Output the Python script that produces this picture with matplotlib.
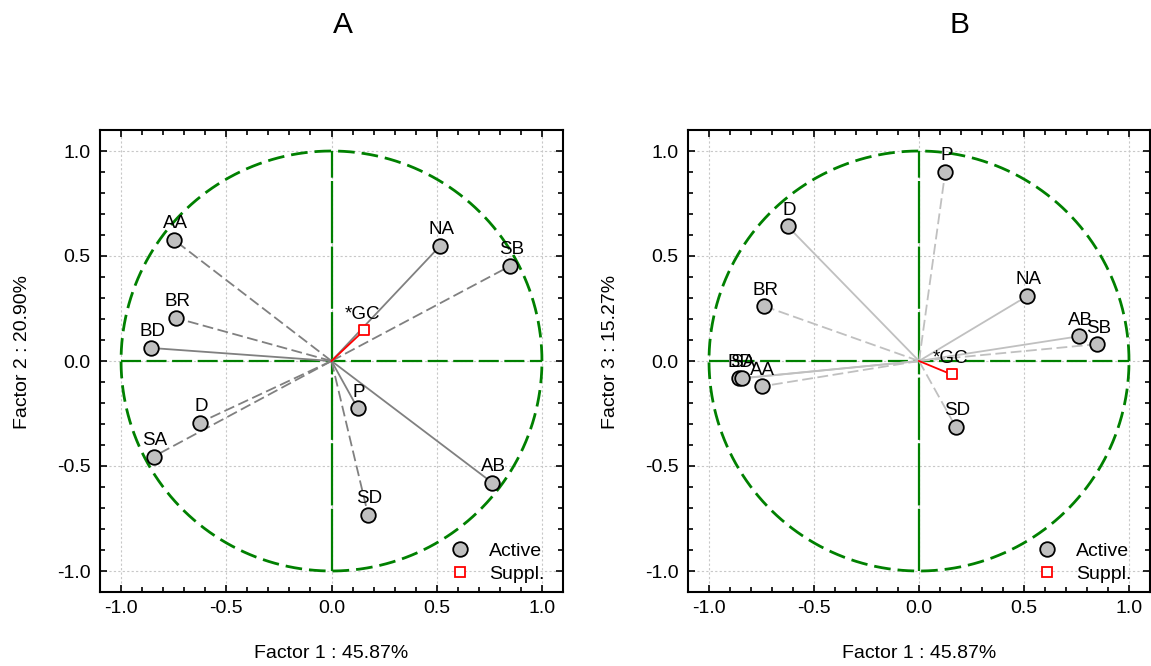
import numpy as np
import matplotlib
matplotlib.use("Agg")
import matplotlib.pyplot as plt
from matplotlib.lines import Line2D

plt.rcParams['font.family'] = ['Liberation Sans', 'DejaVu Sans']

# active variables
labels = ["AA", "NA", "SB", "BR", "BD", "P", "D", "SA", "AB", "SD"]
factor1 = [-0.750, 0.515, 0.848, -0.737, -0.856, 0.125, -0.625, -0.845, 0.763, 0.174]
factor2 = [0.578, 0.547, 0.452, 0.204, 0.062, -0.226, -0.293, -0.455, -0.579, -0.733]
factor3 = [-0.121, 0.309, 0.080, 0.261, -0.083, 0.900, 0.641, -0.083, 0.118, -0.312]

# supplementary variable
supp_label = "*GC"
supp_f1 = 0.155
supp_f2 = 0.146
supp_f3 = -0.064

axis_titles = ["A", "B"]
xlabel = "Factor 1 : 45.87%"
ylabels = ["Factor 2 : 20.90%", "Factor 3 : 15.27%"]

# which vector lines are drawn dashed in each panel
dashed_a = ["AA", "SB", "BR", "D", "SA", "SD"]
dashed_b = ["AA", "SB", "BR", "P", "SD"]

GREEN = "#008000"

fig = plt.figure(figsize=(11.51, 6.66), dpi=100)
ax_a = fig.add_axes([100/1151, 74/666, 463/1151, 462/666])
ax_b = fig.add_axes([688/1151, 74/666, 462/1151, 462/666])


def draw_panel(ax, ys, supp_y, dashed, line_col, ylabel):
    ax.set_xlim(-1.1, 1.1)
    ax.set_ylim(-1.1, 1.1)
    ax.set_axisbelow(True)
    ax.grid(True, color="#c8c8c8", linestyle=(0, (2, 2)), linewidth=0.8)

    # unit circle and axes through origin
    t = np.linspace(0, 2 * np.pi, 400)
    ax.plot(np.cos(t), np.sin(t), color=GREEN, lw=2.0,
            linestyle=(0, (6, 2.5)), zorder=2)
    ax.plot([-1, 1], [0, 0], color=GREEN, lw=1.6,
            linestyle=(0, (9, 2.5)), zorder=2)
    ax.plot([0, 0], [-1, 1], color=GREEN, lw=1.6,
            linestyle=(0, (28, 1.5)), zorder=2)

    for lab, x, y in zip(labels, factor1, ys):
        ls = (0, (6, 2.5)) if lab in dashed else "-"
        ax.plot([0, x], [0, y], color=line_col, lw=1.3, linestyle=ls, zorder=3)
    ax.plot([0, supp_f1], [0, supp_y], color="red", lw=1.3, zorder=3)

    ax.scatter(factor1, ys, s=110, facecolor="#c0c0c0", edgecolor="black",
               linewidth=1.3, zorder=4)
    ax.scatter([supp_f1], [supp_y], s=55, marker="s", facecolor="white",
               edgecolor="red", linewidth=1.3, zorder=4)

    for lab, x, y in zip(labels, factor1, ys):
        ax.annotate(lab, (x, y), xytext=(1, 8.4), textcoords="offset points",
                    ha="center", va="baseline", fontsize=13.5, zorder=5)
    ax.annotate(supp_label, (supp_f1, supp_y), xytext=(-1, 8.4),
                textcoords="offset points", ha="center", va="baseline",
                fontsize=13.5, zorder=5)

    ticks = [-1.0, -0.5, 0.0, 0.5, 1.0]
    ax.set_xticks(ticks)
    ax.set_yticks(ticks)
    ax.set_xticklabels(["%.1f" % v for v in ticks])
    ax.set_yticklabels(["%.1f" % v for v in ticks])
    ax.set_xticks(np.arange(-1.0, 1.05, 0.1), minor=True)
    ax.set_yticks(np.arange(-1.0, 1.05, 0.1), minor=True)
    ax.tick_params(which="both", direction="in", top=True, right=True,
                   labelsize=14, width=1.2)
    ax.tick_params(which="major", length=5)
    ax.tick_params(which="minor", length=3.5)
    ax.tick_params(axis="x", pad=6)
    ax.tick_params(axis="y", pad=7)
    for sp in ax.spines.values():
        sp.set_linewidth(1.5)

    ax.set_xlabel(xlabel, fontsize=14)
    ax.set_ylabel(ylabel, fontsize=14)
    ax.xaxis.set_label_coords(0.5, -0.115)
    ax.yaxis.set_label_coords(-0.15, 0.52)

    handles = [
        Line2D([], [], linestyle="none", marker="o", markersize=10.5,
               markerfacecolor="#c0c0c0", markeredgecolor="black",
               markeredgewidth=1.3),
        Line2D([], [], linestyle="none", marker="s", markersize=7,
               markerfacecolor="white", markeredgecolor="red",
               markeredgewidth=1.3),
    ]
    ax.legend(handles, ["Active", "Suppl."], loc="lower right",
              bbox_to_anchor=(0.99, -0.01), frameon=False, fontsize=14,
              handletextpad=0.5, labelspacing=0.3, borderaxespad=0.3)


draw_panel(ax_a, factor2, supp_f2, dashed_a, "#808080", ylabels[0])
draw_panel(ax_b, factor3, supp_f3, dashed_b, "#c0c0c0", ylabels[1])

fig.text(343/1151, 1 - 25/666, axis_titles[0], fontsize=21.5,
         ha="center", va="center")
fig.text(960/1151, 1 - 25/666, axis_titles[1], fontsize=21.5,
         ha="center", va="center")

fig.savefig("out.png", dpi=100)
